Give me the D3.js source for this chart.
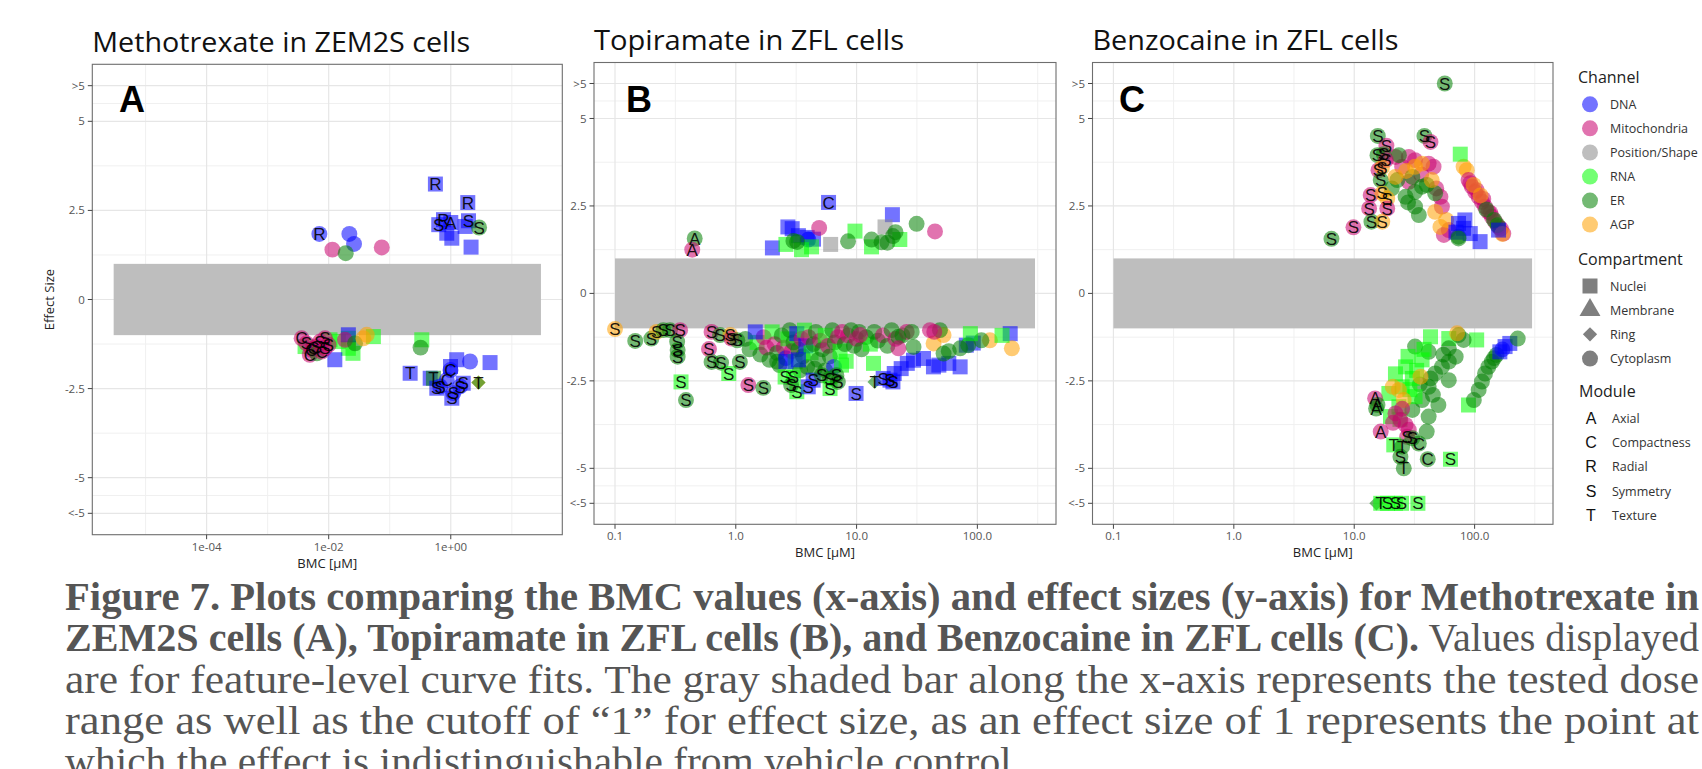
<!DOCTYPE html>
<html><head><meta charset="utf-8">
<script src="https://cdn.jsdelivr.net/npm/d3@7"></script>
<style>body{margin:0;background:#fff}</style>
</head><body>
<svg id="c" width="1702" height="769"></svg>
<script>
// ---------------- DATA ----------------
// point rows: [BMC (µM), effect size, channel, compartment, module]
const channels = ["DNA","Mitochondria","Position/Shape","RNA","ER","AGP"];
const compartments = ["Nuclei","Membrane","Ring","Cytoplasm"];
const compartmentCodes = ["N","M","R","C"];
const modules = ["A","C","R","S","T"];
const moduleNames = ["Axial","Compactness","Radial","Symmetry","Texture"];

const yTicks = [-6,-5,-2.5,0,2.5,5,6];
const yTickLabels = ["<-5","-5","-2.5","0","2.5","5",">5"];
const yMinorTicks = [-5.5,-3.75,-1.25,1.25,3.75,5.5];
const xTicksA = [1e-4,1e-2,1];
const xTickLabelsA = ["1e-04","1e-02","1e+00"];
const xMinorA = [1e-5,1e-3,1e-1,10];
const xTicksBC = [0.1,1,10,100];
const xTickLabelsBC = ["0.1","1.0","10.0","100.0"];
const xMinorBC = [0.316,3.16,31.6,316];
const doseRangeA = [3e-6,30];
const doseRangeB = [0.1,300];
const doseRangeC = [0.1,300];
const effectCutoff = 1;

const methotrexatePoints = [
[0.00703,1.84,"DNA","C","R"],[0.0218,1.84,"DNA","C",""],[0.026,1.56,"DNA","C",""],
[0.0115,1.40,"Mitochondria","C",""],[0.019,1.30,"ER","C",""],[0.074,1.46,"Mitochondria","C",""],
[0.56,3.24,"DNA","N","R"],[1.9,2.72,"DNA","N","R"],[0.86,1.86,"DNA","N",""],[1.04,1.72,"DNA","N",""],
[2.15,1.47,"DNA","N",""],[1.72,2.05,"DNA","N",""],[0.635,2.10,"DNA","N","S"],[0.76,2.24,"DNA","N","R"],
[1.0,2.16,"DNA","N","A"],[1.95,2.21,"DNA","N","S"],[2.91,2.02,"ER","C","S"],
[0.0041,-1.32,"RNA","N",""],[0.0105,-1.13,"RNA","N",""],[0.0144,-1.18,"RNA","N",""],
[0.021,-1.09,"RNA","N",""],[0.021,-1.37,"RNA","N",""],[0.025,-1.51,"RNA","N",""],[0.054,-1.04,"RNA","N",""],
[0.0126,-1.69,"DNA","N",""],[0.021,-0.99,"DNA","N",""],[0.0185,-1.13,"Mitochondria","C",""],
[0.027,-1.23,"ER","C",""],[0.037,-1.09,"AGP","C",""],[0.042,-0.99,"AGP","C",""],
[0.0036,-1.09,"Mitochondria","C","C"],[0.0043,-1.23,"Mitochondria","C","S"],[0.0049,-1.55,"Mitochondria","C","C"],
[0.0052,-1.41,"Mitochondria","C","C"],[0.0056,-1.37,"Mitochondria","C","C"],[0.0063,-1.32,"Mitochondria","C","S"],
[0.0064,-1.51,"ER","C",""],[0.0072,-1.18,"Mitochondria","C","S"],[0.0077,-1.46,"Mitochondria","C","C"],
[0.0087,-1.09,"Mitochondria","C","S"],[0.0087,-1.37,"Mitochondria","C","S"],[0.0099,-1.27,"Mitochondria","C","S"],
[0.335,-1.13,"RNA","N",""],[0.32,-1.35,"ER","C",""],[0.216,-2.07,"DNA","N","T"],[0.46,-2.21,"DNA","N",""],
[0.52,-2.21,"ER","N","T"],[0.59,-2.49,"DNA","N","S"],[2.07,-1.74,"DNA","C",""],[4.4,-1.77,"DNA","N",""],
[1.25,-1.69,"DNA","N",""],[0.99,-1.88,"DNA","N",""],[0.99,-1.98,"DNA","C","C"],[0.86,-2.26,"DNA","C","C"],
[0.67,-2.44,"DNA","C","S"],[1.1,-2.63,"DNA","C","S"],[1.42,-2.44,"DNA","C","S"],[1.04,-2.77,"DNA","N","S"],
[1.6,-2.35,"DNA","N","S"],[2.84,-2.33,"AGP","R",""],[2.84,-2.33,"ER","R","T"]
];

const topiramatePoints = [
[2.93,1.85,"DNA","N",""],[2.7,1.9,"DNA","N",""],[3.3,1.65,"DNA","N",""],[3.9,1.6,"DNA","N",""],
[4.4,1.55,"DNA","N",""],[2.01,1.3,"DNA","N",""],[19.8,2.25,"DNA","N",""],[3.98,1.54,"DNA","C",""],
[17.2,1.9,"Position/Shape","N",""],[6.1,1.4,"Position/Shape","N",""],
[9.7,1.78,"RNA","N",""],[13.3,1.33,"RNA","N",""],[22.8,1.54,"RNA","N",""],[3.5,1.25,"RNA","N",""],
[4.24,1.33,"RNA","N",""],[2.6,1.4,"RNA","N",""],
[31.4,1.99,"ER","C",""],[8.5,1.49,"ER","C",""],[13.3,1.54,"ER","C",""],[16.1,1.46,"ER","C",""],
[20,1.64,"ER","C",""],[21,1.75,"ER","C",""],[3.22,1.47,"ER","C",""],[3.0,1.5,"ER","C",""],[18,1.45,"ER","C",""],
[44.6,1.77,"Mitochondria","C",""],[4.9,1.87,"Mitochondria","C",""],
[0.457,1.57,"ER","C","A"],[0.436,1.25,"Mitochondria","C","A"],[5.86,2.6,"DNA","N","C"],
// dense band under the cutoff
[1.2,-1.3,"ER","C",""],[1.3,-1.6,"ER","C",""],[1.5,-1.4,"RNA","N",""],[1.6,-1.75,"ER","C",""],
[1.7,-1.25,"Mitochondria","C",""],[1.8,-1.55,"Mitochondria","C",""],[1.9,-1.9,"ER","C",""],[2.0,-1.1,"RNA","N",""],
[2.1,-1.45,"Mitochondria","C",""],[2.2,-1.7,"ER","C",""],[2.3,-2.05,"ER","C",""],[2.4,-1.2,"ER","C",""],
[2.5,-1.55,"Mitochondria","C",""],[2.6,-1.85,"DNA","C",""],[2.7,-1.3,"RNA","N",""],[2.8,-1.05,"ER","C",""],
[2.9,-1.65,"Mitochondria","C",""],[3.0,-1.4,"ER","C",""],[3.1,-1.95,"RNA","N",""],[3.2,-1.15,"DNA","N",""],
[3.3,-1.6,"ER","C",""],[3.5,-1.3,"Mitochondria","C",""],[3.6,-1.8,"ER","C",""],[3.7,-1.05,"RNA","N",""],
[3.8,-1.5,"DNA","N",""],[3.9,-2.1,"ER","C",""],[4.0,-1.25,"Mitochondria","C",""],[4.2,-1.7,"RNA","N",""],
[4.4,-1.45,"ER","C",""],[4.6,-1.1,"ER","C",""],[4.8,-1.9,"ER","C",""],[5.0,-1.35,"Mitochondria","C",""],
[5.2,-1.6,"ER","C",""],[5.5,-1.2,"RNA","N",""],[5.8,-1.5,"Mitochondria","C",""],[6.0,-1.8,"ER","C",""],
[6.3,-1.05,"ER","C",""],[6.6,-1.4,"ER","C",""],[7.0,-1.25,"Mitochondria","C",""],[7.3,-1.65,"RNA","N",""],
[7.6,-1.1,"Mitochondria","C",""],[8.0,-1.45,"ER","C",""],[8.5,-1.2,"Mitochondria","C",""],[9.0,-1.05,"ER","C",""],
[9.5,-1.5,"ER","C",""],[10,-1.3,"Mitochondria","C",""],[10.5,-1.1,"ER","C",""],[11,-1.6,"ER","C",""],
[12,-1.25,"ER","C",""],[13,-1.45,"RNA","N",""],[14,-1.1,"ER","C",""],[15,-1.35,"ER","C",""],
[16.5,-1.2,"Mitochondria","C",""],[18,-1.5,"ER","C",""],[19.5,-1.05,"ER","C",""],[21,-1.3,"Mitochondria","C",""],
[24,-1.2,"ER","C",""],[26,-1.1,"Mitochondria","C",""],[3.4,-2.2,"ER","C",""],[2.2,-1.95,"ER","C",""],
[4.5,-2.15,"ER","C",""],[5.5,-2.2,"ER","C",""],[6.5,-2.1,"DNA","C",""],[7.5,-2.05,"RNA","N",""],
[2.6,-1.95,"DNA","N",""],[3.3,-1.9,"DNA","N",""],[1.45,-1.10,"DNA","N",""],
[20.5,-2.29,"DNA","N",""],[23.4,-2.15,"DNA","N",""],[26.3,-2.0,"DNA","N",""],[29.6,-1.91,"DNA","N",""],
[35.8,-1.86,"DNA","N",""],[43.3,-2.1,"DNA","N",""],[48,-2.05,"DNA","N",""],[58,-2.0,"DNA","N",""],
[72,-2.1,"DNA","N",""],[81,-1.48,"DNA","N",""],[92.5,-1.42,"DNA","N",""],[187,-1.15,"DNA","N",""],
[43.4,-1.43,"AGP","C",""],[52.5,-1.19,"AGP","C",""],[127,-1.34,"AGP","C",""],[193,-1.57,"AGP","C",""],
[52.5,-1.72,"ER","C",""],[72,-1.57,"ER","C",""],[84,-1.48,"ER","C",""],[108,-1.34,"ER","C",""],
[49,-1.05,"ER","C",""],[28.6,-1.10,"ER","C",""],[29.6,-1.53,"ER","C",""],[22.2,-1.24,"ER","C",""],[58,-1.65,"ER","C",""],
[87.5,-1.15,"RNA","N",""],[13.8,-2.0,"RNA","N",""],[8.2,-1.94,"RNA","N",""],[160,-1.2,"RNA","N",""],
[40.5,-1.05,"Mitochondria","C",""],[22.2,-1.57,"Mitochondria","C",""],[10.7,-1.19,"Mitochondria","C",""],[44,-1.1,"Mitochondria","C",""],
// labelled points
[0.1,-1.02,"AGP","C","S"],[0.147,-1.36,"ER","C","S"],[0.2,-1.29,"ER","C","S"],[0.221,-1.10,"AGP","C","S"],
[0.251,-1.05,"ER","C","S"],[0.285,-1.05,"ER","C","S"],[0.346,-1.05,"Mitochondria","C","S"],[0.327,-1.38,"ER","C","S"],
[0.33,-1.62,"ER","C","S"],[0.33,-1.81,"ER","C","S"],[0.352,-2.53,"RNA","N","S"],[0.387,-3.05,"ER","C","S"],
[0.63,-1.10,"Mitochondria","C","S"],[0.74,-1.19,"ER","C","S"],[0.6,-1.59,"Mitochondria","C","S"],[0.9,-1.19,"AGP","C","S"],
[0.92,-1.29,"Mitochondria","C","S"],[1.03,-1.34,"ER","C","S"],[0.63,-1.96,"ER","C","S"],[0.755,-1.98,"ER","C","S"],
[0.875,-2.29,"RNA","N","S"],[1.08,-1.96,"ER","C","S"],[1.27,-2.62,"Mitochondria","C","S"],[1.69,-2.70,"ER","C","S"],
[2.56,-2.39,"RNA","N","S"],[3.0,-2.39,"RNA","N","S"],[3.2,-2.81,"RNA","N","S"],[2.87,-2.62,"ER","C","S"],
[3.98,-2.67,"DNA","N","S"],[4.37,-2.48,"DNA","N","S"],[5.15,-2.34,"ER","C","S"],[6.03,-2.43,"ER","C","S"],
[6.03,-2.72,"RNA","N","S"],[6.8,-2.34,"ER","C","S"],[7.0,-2.53,"ER","C","S"],[9.9,-2.86,"DNA","N","S"],
[14.1,-2.53,"ER","R","T"],[16.6,-2.43,"DNA","N","S"],[18.9,-2.48,"DNA","N","S"],[20,-2.53,"DNA","N","S"]
];

const benzocainePoints = [
[28.4,3.9,"Mitochondria","C",""],[32,3.81,"Mitochondria","C",""],[41.5,3.71,"Mitochondria","C",""],[45.6,3.62,"Mitochondria","C",""],
[25,3.62,"Mitochondria","C",""],[22,3.9,"Mitochondria","C",""],[28.4,3.19,"Mitochondria","C",""],[52,2.76,"Mitochondria","C",""],
[53.5,2.48,"Mitochondria","C",""],[55.5,1.67,"Mitochondria","C",""],[61,1.81,"Mitochondria","C",""],[36,3.4,"Mitochondria","C",""],[48,3.0,"Mitochondria","C",""],
[23.5,3.95,"ER","C",""],[30.4,3.33,"ER","C",""],[32,2.9,"ER","C",""],[32,2.48,"ER","C",""],[34.4,2.24,"ER","C",""],
[36.6,3.05,"ER","C",""],[40,3.1,"ER","C",""],[47,2.86,"ER","C",""],[22.8,3.24,"ER","C",""],[26.7,2.76,"ER","C",""],
[73.5,1.62,"ER","C",""],[20.5,3.0,"ER","C",""],[28,2.6,"ER","C",""],
[32,3.62,"AGP","C",""],[36.6,3.71,"AGP","C",""],[22,3.33,"AGP","C",""],[44,3.24,"AGP","C",""],[47,2.33,"AGP","C",""],
[52,1.9,"AGP","C",""],[81,3.62,"AGP","C",""],[86,3.52,"AGP","C",""],[27,3.5,"AGP","C",""],[58,2.1,"AGP","C",""],
[76,3.98,"RNA","N",""],
[89,3.24,"Mitochondria","C",""],[95,3.05,"Mitochondria","C",""],[101,2.9,"Mitochondria","C",""],[108,2.76,"Mitochondria","C",""],
[115,2.62,"Mitochondria","C",""],[122,2.48,"Mitochondria","C",""],[130,2.33,"Mitochondria","C",""],[139,2.19,"Mitochondria","C",""],
[148,2.05,"Mitochondria","C",""],[158,1.9,"Mitochondria","C",""],[173,1.71,"Mitochondria","C",""],[92,3.15,"Mitochondria","C",""],
[104,2.95,"Mitochondria","C",""],[118,2.7,"Mitochondria","C",""],[135,2.3,"Mitochondria","C",""],[165,1.85,"Mitochondria","C",""],
[125,2.4,"ER","C",""],[145,2.1,"ER","C",""],[155,1.95,"ER","C",""],
[98,3.1,"AGP","C",""],[170,1.7,"AGP","C",""],[112,2.8,"AGP","C",""],
[73.5,2.0,"DNA","N",""],[83,2.1,"DNA","N",""],[80.8,1.86,"DNA","N",""],[92,1.71,"DNA","N",""],[111,1.48,"DNA","N",""],
[158,1.81,"DNA","N",""],[70,1.75,"DNA","N",""],[73.5,1.57,"ER","C",""],
[56.5,6,"ER","C","S"],[15.7,4.5,"ER","C","S"],[38.3,4.5,"ER","C","S"],[43,4.33,"Mitochondria","C","S"],
[18.5,4.22,"Mitochondria","C","S"],[15.6,3.95,"ER","C","S"],[17.6,3.98,"ER","C","S"],[18.3,3.81,"Mitochondria","C","S"],
[15.9,3.52,"Mitochondria","C","S"],[17.0,3.6,"AGP","C","S"],[16.6,3.24,"ER","C","S"],[13.7,2.81,"Mitochondria","C","S"],
[17.1,2.86,"AGP","C","S"],[18.8,2.71,"AGP","C","S"],[13.3,2.43,"Mitochondria","C","S"],[18.8,2.43,"Mitochondria","C","S"],
[13.9,2.05,"ER","C","S"],[17.1,2.05,"AGP","C","S"],[9.85,1.89,"Mitochondria","C","S"],[6.47,1.56,"ER","C","S"],
// below the cutoff
[43,-1.24,"RNA","N",""],[61,-1.29,"RNA","N",""],[104,-1.33,"RNA","N",""],[73.5,-1.19,"ER","C",""],[81,-1.33,"ER","C",""],[71.5,-1.14,"AGP","C",""],
[32,-1.52,"ER","C",""],[41.5,-1.67,"ER","C",""],[61,-1.57,"ER","C",""],[69.6,-1.81,"ER","C",""],[61,-1.95,"ER","C",""],
[53.5,-2.1,"ER","C",""],[47,-2.29,"ER","C",""],[43,-2.43,"ER","C",""],[61,-2.48,"ER","C",""],[41.5,-2.67,"ER","C",""],
[50,-3.19,"ER","C",""],[41.5,-3.52,"ER","C",""],[40,-3.95,"ER","C",""],[36.6,-3.05,"ER","C",""],[30.4,-3.33,"ER","C",""],
[45,-2.9,"ER","C",""],[35,-2.6,"ER","C",""],[55,-1.75,"ER","C",""],
[26.7,-2.1,"RNA","N",""],[30.4,-2.43,"RNA","N",""],[36.6,-1.9,"RNA","N",""],[25,-2.67,"RNA","N",""],[32,-2.95,"RNA","N",""],
[23.5,-3.24,"RNA","N",""],[19.4,-2.86,"RNA","N",""],[20,-3.52,"RNA","N",""],[28,-1.8,"RNA","N",""],[33,-2.2,"RNA","N",""],
[22,-2.3,"RNA","N",""],[38,-1.6,"RNA","N",""],[29,-2.75,"RNA","N",""],[24,-3.6,"RNA","N",""],
[35.5,-2.38,"AGP","C",""],[23.5,-2.76,"AGP","C",""],[20.9,-2.67,"AGP","C",""],[25.8,-3.05,"AGP","C",""],
[22,-3.43,"Mitochondria","C",""],[24.2,-3.62,"Mitochondria","C",""],[26.7,-3.76,"Mitochondria","C",""],[28.4,-3.9,"Mitochondria","C",""],
[21,-3.7,"Mitochondria","C",""],[25,-3.3,"Mitochondria","C",""],
[89,-3.19,"RNA","N",""],[98.5,-3.05,"ER","C",""],[108,-2.76,"ER","C",""],[115,-2.52,"ER","C",""],[122,-2.29,"ER","C",""],
[130,-2.1,"ER","C",""],[139,-1.95,"ER","C",""],[152,-1.76,"ER","C",""],[145,-1.85,"ER","C",""],
[162,-1.67,"DNA","N",""],[179,-1.52,"DNA","N",""],[196,-1.43,"DNA","N",""],[170,-1.6,"DNA","C",""],[228,-1.29,"ER","C",""],
[15.3,-6,"ER","R",""],
[14.9,-3.0,"Mitochondria","C","A"],[15.6,-3.19,"ER","C","A"],[15.2,-3.29,"ER","C","A"],[16.6,-3.95,"Mitochondria","C","A"],
[27.5,-4.1,"Mitochondria","C","S"],[30.4,-4.14,"ER","C","S"],[34.4,-4.29,"ER","C","C"],[21.3,-4.33,"RNA","N","T"],
[25,-4.38,"ER","C","T"],[24.2,-4.67,"ER","C","S"],[25.8,-5.0,"ER","C","T"],[40.8,-4.74,"ER","C","C"],[63,-4.74,"RNA","N","S"],
[16.6,-6,"RNA","N","T"],[18.9,-6,"RNA","N","S"],[22,-6,"RNA","N","S"],[24.7,-6,"RNA","N","S"],[33.8,-6,"RNA","N","S"]
];

// ---------------- STYLE ----------------
const channelColor = {"DNA":"#0000ff","Mitochondria":"#c8006e","Position/Shape":"#888888","RNA":"#00ff00","ER":"#008000","AGP":"#ffa000"};
const pointAlpha = 0.55;
const symType = {N:d3.symbolSquare, M:d3.symbolTriangle, R:d3.symbolDiamond2, C:d3.symbolCircle};
const symSize = {N:225, M:190, R:130, C:200};
const sansUI = "'Open Sans', 'DejaVu Sans', sans-serif";

const svg = d3.select("#c");
svg.append("rect").attr("width",1702).attr("height",769).attr("fill","#fff");

const panels = [
  {label:"A", title:"Methotrexate in ZEM2S cells", data:methotrexatePoints, dose:doseRangeA,
   ticks:xTicksA, tickLabels:xTickLabelsA, minor:xMinorA, l:92.3, r:562.3, t:64.3, b:534.7,
   titleY:51.7, titleW:378, labelX:119, yTitle:true},
  {label:"B", title:"Topiramate in ZFL cells", data:topiramatePoints, dose:doseRangeB,
   ticks:xTicksBC, tickLabels:xTickLabelsBC, minor:xMinorBC, l:594, r:1056, t:62.5, b:524.3,
   titleY:49.7, titleW:310, labelX:626, yTitle:false},
  {label:"C", title:"Benzocaine in ZFL cells", data:benzocainePoints, dose:doseRangeC,
   ticks:xTicksBC, tickLabels:xTickLabelsBC, minor:xMinorBC, l:1092.5, r:1553, t:62.5, b:524.3,
   titleY:49.7, titleW:306, labelX:1119, yTitle:false}
];

panels.forEach(p => {
  const g = svg.append("g");
  const lo = Math.log10(p.dose[0]), hi = Math.log10(p.dose[1]), e = 0.05*(hi-lo);
  const x = d3.scaleLog().domain([10**(lo-e), 10**(hi+e)]).range([p.l, p.r]);
  const y = d3.scaleLinear().domain([-6.6, 6.6]).range([p.b, p.t]);

  // grid
  yMinorTicks.forEach(v => g.append("line").attr("x1",p.l).attr("x2",p.r).attr("y1",y(v)).attr("y2",y(v))
    .attr("stroke","#f0f0f0").attr("stroke-width",1));
  p.minor.filter(v => x(v) > p.l && x(v) < p.r).forEach(v => g.append("line").attr("y1",p.t).attr("y2",p.b)
    .attr("x1",x(v)).attr("x2",x(v)).attr("stroke","#f0f0f0").attr("stroke-width",1));
  yTicks.forEach(v => g.append("line").attr("x1",p.l).attr("x2",p.r).attr("y1",y(v)).attr("y2",y(v))
    .attr("stroke","#e6e6e6").attr("stroke-width",1.2));
  p.ticks.forEach(v => g.append("line").attr("y1",p.t).attr("y2",p.b).attr("x1",x(v)).attr("x2",x(v))
    .attr("stroke","#e6e6e6").attr("stroke-width",1.2));

  // tested dose range / effect cutoff band
  g.append("rect").attr("x",x(p.dose[0])).attr("width",x(p.dose[1])-x(p.dose[0]))
    .attr("y",y(effectCutoff)).attr("height",y(-effectCutoff)-y(effectCutoff)).attr("fill","#bebebe");

  const pts = p.data.map(d => ({bmc:d[0], eff:d[1], ch:d[2], comp:d[3], mod:d[4]}));
  g.append("g").selectAll("path").data(pts).join("path")
    .attr("transform", d => `translate(${x(d.bmc)},${y(d.eff)})`)
    .attr("d", d => d3.symbol().type(symType[d.comp]).size(symSize[d.comp])())
    .attr("fill", d => channelColor[d.ch]).attr("fill-opacity", pointAlpha);
  g.append("g").selectAll("text").data(pts.filter(d => d.mod)).join("text")
    .attr("x", d => x(d.bmc)).attr("y", d => y(d.eff)).attr("dy","0.36em")
    .attr("text-anchor","middle").attr("font-family","'Liberation Sans', Arial, sans-serif")
    .attr("font-size",17).attr("fill","#000").attr("fill-opacity",0.9).text(d => d.mod);

  // border
  g.append("rect").attr("x",p.l).attr("y",p.t).attr("width",p.r-p.l).attr("height",p.b-p.t)
    .attr("fill","none").attr("stroke","#6e6e6e").attr("stroke-width",1.1);

  // y axis
  yTicks.forEach((v,i) => {
    g.append("line").attr("x1",p.l-4.5).attr("x2",p.l).attr("y1",y(v)).attr("y2",y(v)).attr("stroke","#444");
    g.append("text").attr("x",p.l-7.5).attr("y",y(v)).attr("dy","0.35em").attr("text-anchor","end")
      .attr("font-family",sansUI).attr("font-size",11.5).attr("fill","#555").text(yTickLabels[i]);
  });
  // x axis
  p.ticks.forEach((v,i) => {
    g.append("line").attr("x1",x(v)).attr("x2",x(v)).attr("y1",p.b).attr("y2",p.b+4.5).attr("stroke","#444");
    g.append("text").attr("x",x(v)).attr("y",p.b+16).attr("text-anchor","middle")
      .attr("font-family",sansUI).attr("font-size",11.5).attr("fill","#555").text(p.tickLabels[i]);
  });
  g.append("text").attr("x",(p.l+p.r)/2).attr("y",p.b+33).attr("text-anchor","middle")
    .attr("font-family",sansUI).attr("font-size",13).attr("fill","#222").text("BMC [µM]");
  if (p.yTitle) {
    g.append("text").attr("transform",`translate(${p.l-38},${(p.t+p.b)/2}) rotate(-90)`)
      .attr("text-anchor","middle").attr("font-family",sansUI).attr("font-size",13).attr("fill","#222").text("Effect Size");
  }
  // title and panel letter
  g.append("text").attr("x",p.l).attr("y",p.titleY).attr("font-family",sansUI).attr("font-size",27)
    .attr("fill","#111").attr("textLength",p.titleW).attr("lengthAdjust","spacingAndGlyphs").text(p.title);
  g.append("text").attr("x",p.labelX).attr("y",111.5).attr("font-family","'Liberation Sans', Arial, sans-serif")
    .attr("font-weight","bold").attr("font-size",36).attr("fill","#000").text(p.label);
});

// ---------------- LEGEND ----------------
const lg = svg.append("g").attr("font-family",sansUI);
const lx = 1578, keyX = 1590, txtX = 1610;
lg.append("text").attr("x",lx).attr("y",83.3).attr("font-size",16).attr("fill","#222").text("Channel");
const chY = [104.3,128.3,152.5,176.6,200.6,224.6];
channels.forEach((c,i) => {
  lg.append("circle").attr("cx",keyX).attr("cy",chY[i]).attr("r",8).attr("fill",channelColor[c]).attr("fill-opacity",pointAlpha);
  lg.append("text").attr("x",txtX).attr("y",chY[i]).attr("dy","0.36em").attr("font-size",12.5).attr("fill","#333").text(c);
});
lg.append("text").attr("x",lx).attr("y",265).attr("font-size",16).attr("fill","#222").text("Compartment");
const cpY = [286,310,334.3,358.6];
compartments.forEach((c,i) => {
  const code = compartmentCodes[i];
  lg.append("path").attr("transform",`translate(${keyX},${cpY[i]})`)
    .attr("d", d3.symbol().type(symType[code]).size(symSize[code])()).attr("fill","#000").attr("fill-opacity",0.5);
  lg.append("text").attr("x",txtX).attr("y",cpY[i]).attr("dy","0.36em").attr("font-size",12.5).attr("fill","#333").text(c);
});
lg.append("text").attr("x",lx+1).attr("y",397.3).attr("font-size",16).attr("fill","#222").text("Module");
const mdY = [418.3,442.6,466.7,491,515];
modules.forEach((m,i) => {
  lg.append("text").attr("x",keyX+1).attr("y",mdY[i]).attr("dy","0.36em").attr("text-anchor","middle")
    .attr("font-family","'Liberation Sans', Arial, sans-serif").attr("font-size",16).attr("fill","#111").text(m);
  lg.append("text").attr("x",txtX+2).attr("y",mdY[i]).attr("dy","0.36em").attr("font-size",12.5).attr("fill","#333").text(moduleNames[i]);
});

// ---------------- CAPTION ----------------
const cap = svg.append("g").attr("font-family","'Liberation Serif', 'DejaVu Serif', serif").attr("font-size",40).attr("fill","#555");
const capX = 65;
function capLine(yb, w, parts) {
  const t = cap.append("text").attr("x",capX).attr("y",yb).attr("textLength",w).attr("lengthAdjust","spacingAndGlyphs");
  parts.forEach(([s,b]) => t.append("tspan").attr("font-weight", b ? "bold" : "normal").text(s));
}
capLine(610, 1634, [["Figure 7. Plots comparing the BMC values (x-axis) and effect sizes (y-axis) for Methotrexate in", true]]);
capLine(651, 1634, [["ZEM2S cells (A), Topiramate in ZFL cells (B), and Benzocaine in ZFL cells (C).", true], [" Values displayed", false]]);
capLine(692.5, 1634, [["are for feature-level curve fits. The gray shaded bar along the x-axis represents the tested dose", false]]);
capLine(733.5, 1634, [["range as well as the cutoff of \u201c1\u201d for effect size, as an effect size of 1 represents the point at", false]]);
capLine(775, 957, [["which the effect is indistinguishable from vehicle control.", false]]);
</script>
</body></html>
